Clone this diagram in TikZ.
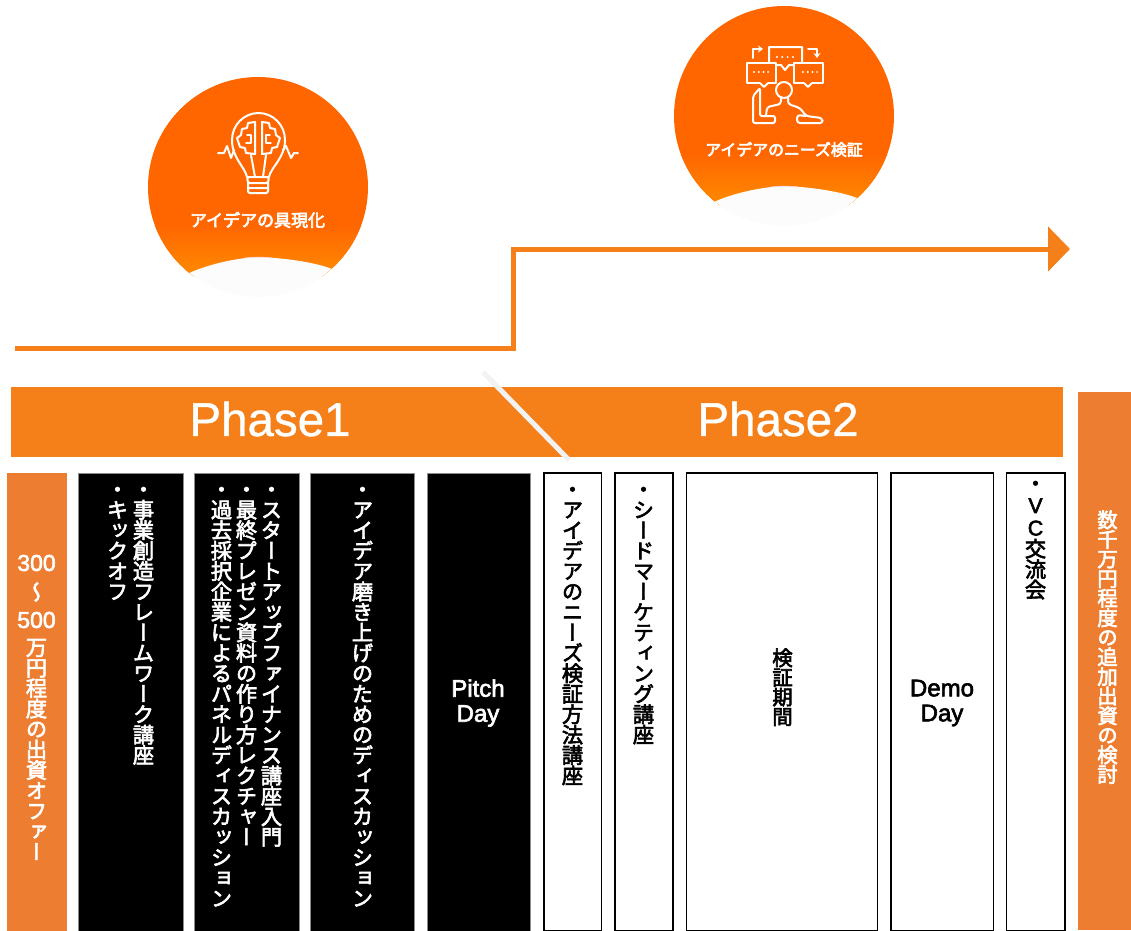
\documentclass[tikz,border=0pt]{standalone}
\usepackage{fontspec}
\usetikzlibrary{arrows.meta}
\setmainfont{Liberation Sans}
\newfontfamily\vtf[RawFeature=+vert]{Noto Sans CJK JP}
\newfontfamily\hzf{Noto Sans CJK JP}
\definecolor{barorange}{HTML}{F58019}
\definecolor{sideorange}{HTML}{ED7D31}
\definecolor{discorange}{HTML}{FF6600}
\definecolor{discglow}{HTML}{FF8A00}
\definecolor{blobgray}{HTML}{FCFCFC}
\definecolor{slash}{HTML}{F2F2F2}
\newcommand{\thk}[2][0.6]{\special{pdf:code q 2 Tr #1 w}#2\special{pdf:code Q}}
\makeatletter
\newcommand{\vstack}[1]{\thk{\vbox{\offinterlineskip\@tfor\vch:=#1\do{%
  \hbox to 1em{\hss\vch\hss\vrule width 0pt height .86em depth .10em}}}}}
\makeatother
\newcommand{\vlat}[1]{\rmfamily\fontsize{21.3}{22}\selectfont\kern0pt #1\vrule width 0pt height 19.5pt depth 3pt}
\tikzset{
  x=1pt,y=-1pt,
  colbox/.style={rectangle,anchor=north west,inner sep=0pt,outer sep=0pt},
  blackcol/.style={colbox,fill=black,draw=black!45,line width=0.5pt},
  whitecol/.style={colbox,fill=white,draw=black,line width=1.3pt},
  sidecol/.style={colbox,fill=sideorange},
  vtext/.style={anchor=north,inner sep=0pt,outer sep=0pt,
    font=\vtf\fontsize{21.3}{22}\selectfont},
  ltext/.style={inner sep=0pt,outer sep=0pt,align=center,font=\fontsize{24}{25}\selectfont},
  phasetext/.style={inner sep=0pt,outer sep=0pt,text=white,font=\fontsize{47.5}{50}\selectfont},
  icon/.style={draw=white,line width=2pt,line join=round,line cap=round},
  flow/.style={draw=barorange,line width=5pt,line join=miter},
  disclabel/.style={inner sep=0pt,outer sep=0pt,text=white}
}
\begin{document}
\begin{tikzpicture}
\useasboundingbox (0,0) rectangle (1131,930);

%% disc 1
\begin{scope}
  \clip (258,187) circle[radius=110pt];
  \fill[discorange] (148,70) rectangle (368,276);
  \shade[top color=discorange,bottom color=discglow] (148,225) rectangle (368,276);
  \fill[blobgray] (185,275) .. controls (205,265) and (235,258) .. (258,257)
     .. controls (285,258) and (315,262) .. (335,270) -- (368,300) -- (148,300) -- cycle;
  \draw[pink!70!white,line width=0.8pt] (245,258) .. controls (252,257) and (265,257) .. (272,258);
\end{scope}
%% disc 2
\begin{scope}
  \clip (784,116) circle[radius=110pt];
  \fill[discorange] (674,0) rectangle (894,205);
  \shade[top color=discorange,bottom color=discglow] (674,154) rectangle (894,205);
  \fill[blobgray] (712,203) .. controls (732,193) and (762,187) .. (784,186)
     .. controls (810,187) and (840,191) .. (860,199) -- (894,230) -- (674,230) -- cycle;
  \draw[pink!70!white,line width=0.8pt] (771,187) .. controls (778,186) and (791,186) .. (798,187);
\end{scope}

%% bulb icon
\draw[icon] (247,177) .. controls (245,167) and (232,158) .. (232,140)
   .. controls (232,125) and (244,113) .. (258.5,113)
   .. controls (273,113) and (285,125) .. (285,140)
   .. controls (285,158) and (271,167) .. (269,177);
\draw[icon] (251,155) -- (255,177) (266,155) -- (263,177);
\draw[icon,rounded corners=1.5pt] (247,177) -- (269,177) -- (268,183) -- (248,183) -- cycle;
\draw[icon,rounded corners=1.5pt] (248,183) -- (248,193) -- (268,193) -- (268,183) (248,188) -- (268,188);
\draw[icon] (255,122) -- (248,123) -- (247,128) -- (242,129) -- (241,135) -- (237,138) -- (240,147) -- (245,148) -- (246,153) -- (255,154) -- cycle;
\draw[icon] (262,122) -- (269,123) -- (270,128) -- (275,129) -- (276,135) -- (280,138) -- (277,147) -- (272,148) -- (271,153) -- (262,154) -- cycle;
\draw[icon,line width=1.4pt] (247,135) -- (251,135) -- (251,143) -- (246,143) (270,135) -- (266,135) -- (266,143) -- (271,143);
\draw[icon] (218,153) -- (224,153) -- (227,146) -- (231,158) -- (234,150);
\draw[icon] (283,150) -- (286,146) -- (291,158) -- (294,153) -- (298,153);

%% discussion icon
\draw[icon] (769,63) -- (769,47) -- (802,47) -- (802,63) (776,65) -- (781,65) -- (785,70) -- (789,65) -- (794,65);
\draw[icon] (747,63) rectangle (776,83);
\fill[discorange] (760,82) rectangle (768,85);
\draw[icon] (760,83) -- (764,87) -- (768,83);
\draw[icon] (794,63) rectangle (823,83);
\fill[discorange] (804,82) rectangle (812,85);
\draw[icon] (804,83) -- (808,87) -- (812,83);
\foreach \dx in {0,1,2,3}{
  \fill[white] (777+5.3*\dx,57) circle[radius=1.1pt];
  \fill[white] (754+4.7*\dx,72) circle[radius=1.1pt];
  \fill[white] (803+4.7*\dx,72) circle[radius=1.1pt];
}
\draw[icon,-{Stealth[length=5pt,width=7pt]}] (753,58) -- (753,49) -- (763,49);
\draw[icon,-{Stealth[length=5pt,width=7pt]}] (808,49) -- (817,49) -- (817,58);
\draw[icon] (784,90) circle[radius=8pt];
\draw[icon,rounded corners=2pt] (760,88) -- (753,96) -- (753,123) -- (775,123) -- (775,116) -- (760,116) -- cycle;
\draw[icon,rounded corners=3pt] (766,116) -- (767,107) -- (781,104) -- (781,97);
\draw[icon,rounded corners=3pt] (788,97) -- (788,104) -- (800,108) -- (806,116) -- (822,118) -- (823,123) -- (797,123) -- (797,115) -- (806,116);

\node[disclabel,font=\hzf\fontsize{17}{17}\selectfont] (lbl1) at (257.5,220) {\thk[0.6]{アイデアの具現化}};
\node[disclabel,font=\hzf\fontsize{15.9}{16}\selectfont] (lbl2) at (784,149.5) {\thk[0.6]{アイデアのニーズ検証}};

%% step arrow
\coordinate (f0) at (15,348);
\coordinate (f1) at (513,348);
\coordinate (f2) at (513,249);
\coordinate (f3) at (1070,249);
\draw[flow,-{Triangle[length=22pt,width=44pt]}] (f0) -- (f1) -- (f2) -- (f3);

%% phase bar
\node[colbox,fill=barorange,minimum width=1052pt,minimum height=70pt] (bar) at (11,387) {};
\coordinate (s0) at (483,372);
\coordinate (s1) at (569,460);
\draw[slash,line width=5pt] (s0) -- (s1);
\node[phasetext] (ph1) at (270,419) {\thk[0.4]{Phase1}};
\node[phasetext] (ph2) at (778,419) {\thk[0.4]{Phase2}};

%% columns
\node[sidecol,minimum width=60pt,minimum height=458pt] (c0) at (7,473) {};
\node[blackcol,minimum width=105pt,minimum height=458pt] (c1) at (78,473) {};
\node[blackcol,minimum width=105pt,minimum height=458pt] (c2) at (193.8,473) {};
\node[blackcol,minimum width=104pt,minimum height=458pt] (c3) at (310.3,473) {};
\node[blackcol,minimum width=103.5pt,minimum height=458pt] (c4) at (427,473) {};
\node[whitecol,minimum width=57.5pt,minimum height=458pt] (c5) at (544,473) {};
\node[whitecol,minimum width=58pt,minimum height=458pt] (c6) at (615,473) {};
\node[whitecol,minimum width=190.7pt,minimum height=458pt] (c7) at (686.7,473) {};
\node[whitecol,minimum width=102.5pt,minimum height=458pt] (c8) at (891,473) {};
\node[whitecol,minimum width=58.3pt,minimum height=458pt] (c9) at (1006.7,473) {};
\node[sidecol,minimum width=53pt,minimum height=538pt] (c10) at (1078,392) {};

%% column texts
\node[ltext,text=white,font=\fontsize{23}{23}\selectfont] (t0a) at (36.5,563) {\thk{300}};
\node[vtext,text=white,anchor=center] (t0b) at (36.5,592) {\vstack{〜}};
\node[ltext,text=white,font=\fontsize{23}{23}\selectfont] (t0c) at (36.5,620) {\thk{500}};
\node[vtext,text=white] (t0d) at (36.5,637) {\vstack{万円程度の出資オファー}};
\node[vtext,text=white] (t1a) at (143.5,479) {\vstack{・事業創造フレームワーク講座}};
\node[vtext,text=white] (t1b) at (117.5,479) {\vstack{・キックオフ}};
\node[vtext,text=white] (t2a) at (271.5,479) {\vstack{・スタートアップファイナンス講座入門}};
\node[vtext,text=white] (t2b) at (246.5,479) {\vstack{・最終プレゼン資料の作り方レクチャー}};
\node[vtext,text=white] (t2c) at (221.5,479) {\vstack{・過去採択企業によるパネルディスカッション}};
\node[vtext,text=white] (t3) at (362.5,479) {\vstack{・アイデア磨き上げのためのディスカッション}};
\node[ltext,text=white] (t4) at (478,703) {\thk{Pitch}\\\thk{Day}};
\node[vtext] (t5) at (572.5,479) {\vstack{・アイデアのニーズ検証方法講座}};
\node[vtext] (t6) at (643.5,479) {\vstack{・シードマーケティング講座}};
\node[vtext,font=\vtf\fontsize{20.4}{21}\selectfont] (t7) at (782.5,648) {\vstack{検証期間}};
\node[ltext] (t8) at (942,703) {\thk{Demo}\\\thk{Day}};
\node[vtext] (t9) at (1035.5,473) {\vstack{・{\vlat{V}}{\vlat{C}}交流会}};
\node[vtext,text=white,font=\vtf\fontsize{20.4}{21}\selectfont] (t10) at (1107.5,510) {\vstack{数千万円程度の追加出資の検討}};
\end{tikzpicture}
\end{document}
